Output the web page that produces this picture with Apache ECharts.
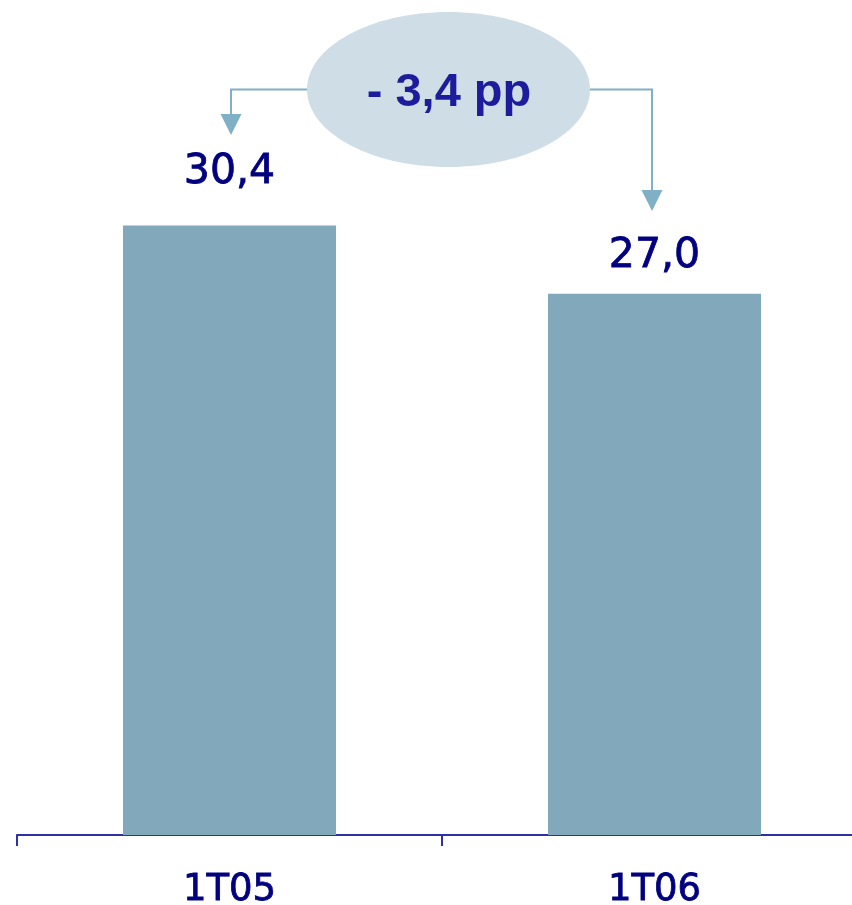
<!DOCTYPE html>
<html>
<head>
<meta charset="utf-8">
<script src="https://cdn.jsdelivr.net/npm/echarts@6/dist/echarts.min.js"></script>
<style>
  html, body { margin: 0; padding: 0; background: #ffffff; overflow: hidden; }
  #chart { width: 867px; height: 905px; }
</style>
</head>
<body>
<div id="chart"></div>
<script>
// ---- data ----
const categories = ['1T05', '1T06'];
const values = [30.4, 27.0];
const valueLabels = ['30,4', '27,0'];
const deltaLabel = '- 3,4 pp';

// ---- styling (not data) ----
const labelDistances = [33, 17];
const barColor = '#81a9bb';
const navy = '#000080';

const chart = echarts.init(document.getElementById('chart'), null, { renderer: 'canvas' });

const seriesData = values.map((v, i) => ({
  value: v,
  label: { distance: labelDistances[i], formatter: valueLabels[i] }
}));

chart.setOption({
  animation: false,
  backgroundColor: '#ffffff',
  grid: { left: 17, right: 0, top: 33, bottom: 70, containLabel: false, outerBoundsMode: 'none' },
  xAxis: {
    type: 'category',
    data: categories,
    axisLine: { show: true, lineStyle: { color: '#2f2fa8', width: 2 } },
    axisTick: { show: true, length: 11, lineStyle: { color: '#2f2fa8', width: 2 } },
    axisLabel: { color: navy, fontFamily: 'DejaVu Sans', fontSize: 37, margin: 37,
      textBorderColor: navy, textBorderWidth: 0.8 }
  },
  yAxis: {
    type: 'value', min: 0, max: 40, show: false,
    splitLine: { show: false }
  },
  series: [{
    type: 'bar',
    data: seriesData,
    barWidth: 213,
    itemStyle: { color: barColor },
    label: {
      show: true, position: 'top',
      color: navy, fontFamily: 'DejaVu Sans', fontSize: 41,
      textBorderColor: navy, textBorderWidth: 0.8
    }
  }]
});

// annotation anchored to bar centers
const c1 = chart.convertToPixel({ xAxisIndex: 0 }, categories[0]);
const c2 = chart.convertToPixel({ xAxisIndex: 0 }, categories[1]);
const arrowColor = '#7fb0c5';
const lx = c1 + 1.5, rx = c2 - 2.5;
const ex = 448.5, ey = 89.5;

chart.setOption({
  graphic: [
    { type: 'polyline', z: 10, shape: { points: [[ex - 100, ey], [lx, ey], [lx, 115]] },
      style: { stroke: arrowColor, lineWidth: 2, fill: null } },
    { type: 'polygon', z: 10, shape: { points: [[lx - 10.5, 114], [lx + 10.5, 114], [lx, 135]] },
      style: { fill: arrowColor } },
    { type: 'polyline', z: 10, shape: { points: [[ex + 100, ey], [rx, ey], [rx, 191]] },
      style: { stroke: arrowColor, lineWidth: 2, fill: null } },
    { type: 'polygon', z: 10, shape: { points: [[rx - 10.5, 190], [rx + 10.5, 190], [rx, 211]] },
      style: { fill: arrowColor } },
    { type: 'ellipse', z: 11, shape: { cx: ex, cy: ey, rx: 141.5, ry: 77.5 },
      style: { fill: '#cfdee6' } },
    { type: 'text', z: 12, x: 449, y: 93,
      style: { text: deltaLabel, fill: '#1c1c9c', font: 'bold 47px "Liberation Sans", Arial, sans-serif',
        textAlign: 'center', textVerticalAlign: 'middle' } }
  ]
});
</script>
</body>
</html>
